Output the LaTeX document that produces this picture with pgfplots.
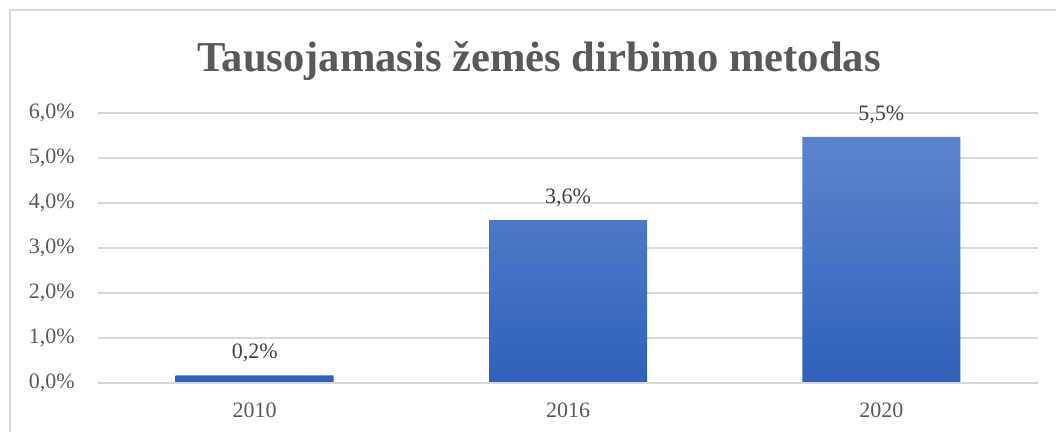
\documentclass[border=0pt]{standalone}
\usepackage{pgfplots}
\pgfplotsset{compat=1.18}
\usepackage{fontspec}
\setmainfont{Liberation Serif}
\definecolor{txtgray}{HTML}{595959}
\definecolor{lblgray}{HTML}{404040}
\definecolor{gridgray}{HTML}{D9D9D9}
\definecolor{bartop}{RGB}{93,131,205}
\definecolor{barbot}{RGB}{46,97,186}
\begin{document}
\begin{tikzpicture}
\useasboundingbox (0,0) rectangle (1056bp,432bp);
\draw[gridgray, line width=1.2bp] (10bp,0) -- (10bp,422bp) -- (1056bp,422bp);
\node[anchor=base, text=txtgray, font=\fontsize{42.6bp}{48bp}\selectfont\bfseries, inner sep=0] at (539bp,360bp) {Tausojamasis žemės dirbimo metodas};
\begin{axis}[
  at={(98bp,49bp)}, anchor=south west,
  scale only axis, width=940bp, height=270bp,
  xmin=-0.5, xmax=2.5, ymin=0, ymax=6,
  axis line style={draw=none},
  ymajorgrids, grid style={gridgray, line width=1.5bp},
  major tick length=0pt,
  xtick={0,1,2}, xticklabels={2010,2016,2020},
  ytick={0,1,2,3,4,5,6},
  /pgf/number format/assume math mode=true,
  yticklabel={\pgfmathprintnumber[fixed,fixed zerofill,precision=1,use comma]{\tick}\%},
  ticklabel style={text=txtgray, font=\fontsize{22bp}{26bp}\selectfont, inner sep=0},
  yticklabel style={anchor=east, xshift=-23bp},
  xticklabel style={anchor=north, yshift=-20bp},
  clip=false,
]
\addplot[ybar, bar width=158bp, draw=none, top color=bartop, bottom color=barbot,
  nodes near coords={\pgfmathprintnumber[fixed,fixed zerofill,precision=1,use comma]{\pgfplotspointmeta}\%},
  nodes near coords style={anchor=base, inner sep=0, yshift=16.5bp, text=lblgray, font=\fontsize{22bp}{26bp}\selectfont},
] coordinates {(0,0.17) (1,3.62) (2,5.47)};
\draw[gridgray, line width=1.5bp] (axis cs:-0.5,0) -- (axis cs:2.5,0);
\end{axis}
\end{tikzpicture}
\end{document}
